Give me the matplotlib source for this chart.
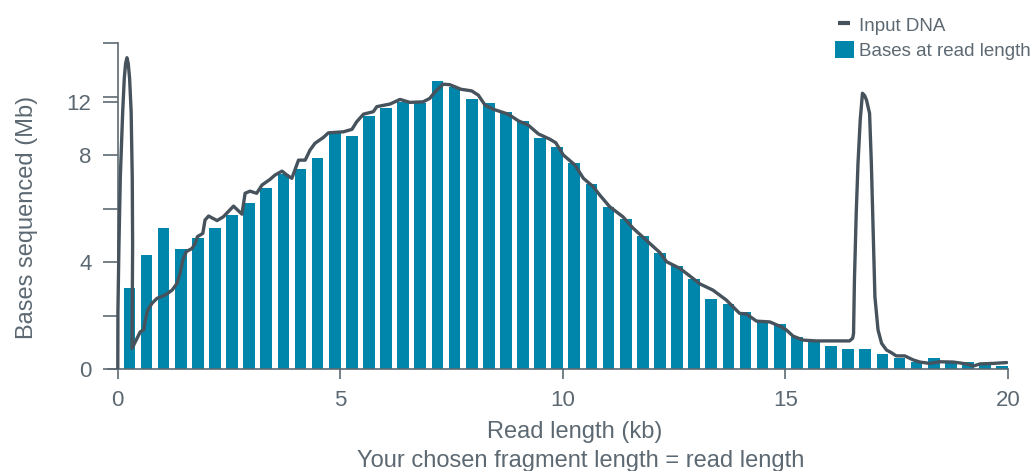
import numpy as np
import matplotlib.pyplot as plt
from matplotlib.lines import Line2D
from matplotlib.patches import Patch

plt.rcParams['font.family'] = ['Liberation Sans', 'DejaVu Sans']

text_col = '#5d6972'
axis_col = '#5d6972'
bar_col = '#0085ab'
line_col = '#46525c'

# bases sequenced per read-length bin (Mb), 52 bins across 0-20 kb
bar_vals = [3.02, 4.26, 5.27, 4.49, 4.90, 5.27, 5.76, 6.21, 6.77, 7.29,
            7.48, 7.89, 8.83, 8.71, 9.46, 9.76, 9.99, 9.94, 10.78, 10.55,
            10.09, 9.94, 9.61, 9.27, 8.64, 8.30, 7.70, 6.92, 6.06, 5.61,
            4.97, 4.34, 3.85, 3.36, 2.62, 2.43, 2.13, 1.76, 1.68, 1.20,
            1.01, 0.86, 0.75, 0.75, 0.56, 0.42, 0.26, 0.41, 0.26, 0.26,
            0.15, 0.11]
bar_x = np.linspace(0.26, 19.87, len(bar_vals))

# input DNA trace
dna_x = [0.0, 0.003, 0.026, 0.056, 0.11, 0.146, 0.175, 0.206, 0.235, 0.265,
         0.30, 0.325, 0.333, 0.325, 0.32, 0.505, 0.58,
         0.62, 0.67, 0.77, 0.88, 1.07, 1.22, 1.33, 1.40, 1.46, 1.54, 1.67,
         1.74, 1.79, 1.91, 1.96, 2.04, 2.23, 2.37, 2.60, 2.79, 2.86, 2.97,
         3.12, 3.24, 3.42, 3.53, 3.69, 3.80, 3.91, 4.06, 4.21, 4.32, 4.43,
         4.62, 4.73, 5.07, 5.26, 5.37, 5.52, 5.74, 5.82, 6.12, 6.34, 6.56,
         6.86, 7.01, 7.13, 7.31, 7.46, 7.71, 7.95, 8.10, 8.25, 8.44, 8.77,
         9.00, 9.22, 9.45, 9.71, 9.84, 10.01, 10.27, 10.46, 10.68, 10.83,
         11.05, 11.35, 11.58, 11.95, 12.18, 12.33, 12.63, 12.85, 13.08,
         13.37, 13.67, 13.97, 14.12, 14.35, 14.65, 14.90, 15.02, 15.17,
         15.40, 15.69, 16.44, 16.51, 16.53, 16.55, 16.59, 16.63, 16.68,
         16.73, 16.78, 16.82, 16.89, 16.93, 16.97, 17.01, 17.08, 17.16,
         17.27, 17.38, 17.49,
         17.68, 17.87, 18.02, 18.24, 18.47, 18.77, 19.07, 19.22, 19.37,
         19.67, 19.97]
dna_y = [0.0, 2.14, 4.64, 7.14, 9.62, 10.87, 11.42, 11.64, 11.42, 10.87,
         9.62, 7.14, 4.64, 2.14, 0.77, 1.39, 1.46,
         1.83, 2.2, 2.46, 2.64, 2.77, 2.95, 3.2, 3.58, 4.07, 4.39, 4.51,
         4.70, 4.95, 5.07, 5.57, 5.72, 5.55, 5.69, 6.09, 5.79, 6.57, 6.65,
         6.57, 6.88, 7.09, 7.25, 7.40, 7.25, 7.13, 7.81, 7.81, 8.19, 8.44,
         8.66, 8.83, 8.87, 8.96, 9.25, 9.53, 9.62, 9.81, 9.91, 10.08, 9.97,
         9.99, 10.12, 10.37, 10.65, 10.63, 10.46, 10.40, 10.24, 9.87, 9.71,
         9.53, 9.28, 9.12, 8.79, 8.59, 8.46, 8.00, 7.63, 7.13, 6.82, 6.50,
         6.07, 5.69, 5.26, 4.70, 4.35, 4.01, 3.76, 3.48, 3.18, 2.95, 2.58,
         2.08, 2.06, 1.79, 1.76, 1.58, 1.46, 1.23, 1.08, 1.05, 1.05, 1.15,
         1.33, 3.33, 5.82, 7.69, 9.31, 10.31, 10.22, 10.06, 9.56, 7.69,
         5.20, 2.70, 1.46, 0.96, 0.71, 0.61, 0.49,
         0.49, 0.34, 0.26, 0.21, 0.27, 0.26, 0.19, 0.11,
         0.19, 0.21, 0.24]

y_ticks = [0, 2, 4, 6, 8, 10, 12.19]
y_labels = ['0', '', '4', '', '8', '12', '']
x_ticks = [0, 5, 10, 15, 20]

fig = plt.figure(figsize=(10.36, 4.71), dpi=100)
ax = fig.add_axes([108 / 1036, 102 / 471, 900 / 1036, 326 / 471])

ax.bar(bar_x, bar_vals, width=0.263, color=bar_col, zorder=2,
       label='Bases at read length')
ax.plot(dna_x, dna_y, color=line_col, lw=2.4, zorder=3,
        solid_joinstyle='round', solid_capstyle='round')

ax.set_xlim(-0.22, 20)
ax.set_ylim(0, 12.19)
for s in ['top', 'right']:
    ax.spines[s].set_visible(False)
ax.spines['left'].set_position(('data', 0))
for s in ['left', 'bottom']:
    ax.spines[s].set_color(axis_col)
    ax.spines[s].set_linewidth(1.2)

ax.set_xticks(x_ticks)
ax.set_xticklabels([str(t) for t in x_ticks])
ax.set_yticks(y_ticks)
ax.set_yticklabels(y_labels)
ax.set_yticks([10.17], minor=True)
ax.tick_params(axis='x', direction='out', length=7, width=1.2, color=axis_col,
               labelsize=16, labelcolor=text_col, pad=8)
ax.tick_params(axis='y', which='both', direction='out', length=11, width=1.2,
               color=axis_col, labelsize=16, labelcolor=text_col, pad=8)

fig.text(575 / 1036, 1 - 432 / 471, 'Read length (kb)', ha='center',
         va='center', fontsize=17, color=text_col)
fig.text(581 / 1036, 1 - 461 / 471, 'Your chosen fragment length = read length',
         ha='center', va='center', fontsize=17, color=text_col)
fig.text(27 / 1036, 1 - 217 / 471, 'Bases sequenced (Mb)', ha='center',
         va='center', rotation=90, fontsize=17, color=text_col)

handles = [Line2D([], [], marker='_', markersize=9, mew=3, linestyle='None',
                  color=line_col),
           Patch(facecolor=bar_col)]
leg = fig.legend(handles, ['Input DNA', 'Bases at read length'],
                 loc='upper left', bbox_to_anchor=(835 / 1036, 1 - 16 / 471),
                 frameon=False, fontsize=13.5, handlelength=1.0,
                 handleheight=1.0, handletextpad=0.3, labelspacing=0.35,
                 borderaxespad=0, borderpad=0)
for t in leg.get_texts():
    t.set_color(text_col)

fig.savefig('out.png', dpi=100)
